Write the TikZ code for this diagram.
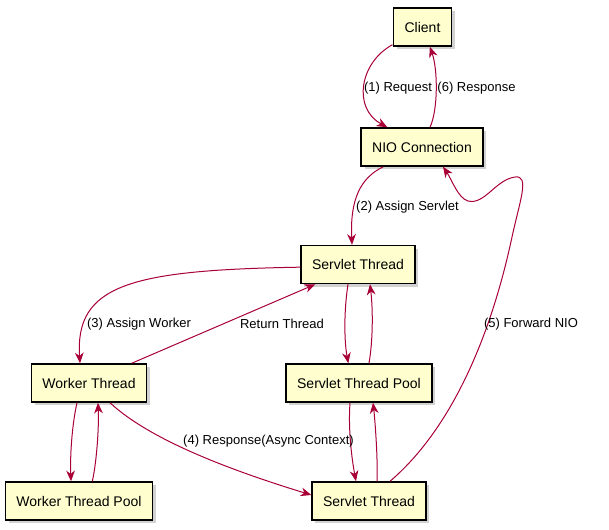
\documentclass[tikz,border=0pt]{standalone}
\usepackage{fontspec}
\setmainfont{Liberation Sans}
\usetikzlibrary{arrows.meta,shadows}
\definecolor{umlfill}{HTML}{FEFECE}
\definecolor{umlred}{HTML}{A80036}
\begin{document}
\begin{tikzpicture}[x=0.75pt, y=-0.75pt,
    comp/.style={rectangle, draw=black, line width=1.1pt, fill=umlfill, minimum height=28.5pt, inner xsep=8.25pt, align=center,
        font=\fontsize{10.5}{12}\selectfont,
        drop shadow={shadow xshift=2.5pt, shadow yshift=-2.5pt, fill=black!35, opacity=0.5}},
    flow/.style={draw=umlred, line width=0.75pt, -{Stealth[length=8pt, width=6.5pt, inset=2.5pt]}},
    lbl/.style={font=\fontsize{9.75}{11}\selectfont, inner sep=0pt}
]
\useasboundingbox (0,0) rectangle (609,529);

% Nodes
\node[comp] (client) at (422.5,27) {Client};
\node[comp] (nio) at (422,147) {NIO Connection};
\node[comp] (st) at (358,264.5) {Servlet Thread};
\node[comp] (worker) at (89,383) {Worker Thread};
\node[comp] (stpool) at (359,383) {Servlet Thread Pool};
\node[comp] (wpool) at (79,501) {Worker Thread Pool};
\node[comp] (stb) at (369,501) {Servlet Thread};

% Request / response
\draw[flow] ([xshift=-22.5pt,yshift=1.5pt]client.south) .. controls (360,62) and (352,108) .. ([xshift=-26pt]nio.north);
\draw[flow] ([xshift=6pt]nio.north) .. controls (438,110) and (438,70) .. ([xshift=5.5pt]client.south);
\draw[flow] ([xshift=-29pt]nio.south) .. controls (360,178) and (350,200) .. ([xshift=-4.5pt]st.north);

% Servlet thread to worker
\draw[flow] ([yshift=-2pt]st.west) .. controls (130,270) and (75,285) .. ([xshift=-6.75pt]worker.north);
\draw[flow] ([xshift=32pt]worker.north) -- ([xshift=-32pt]st.south);

% Pools
\draw[flow] ([xshift=-7.5pt]st.south) .. controls (344,310) and (344,340) .. ([xshift=-8pt]stpool.north);
\draw[flow] ([xshift=7.5pt]stpool.north) .. controls (373,340) and (373,310) .. ([xshift=9pt]st.south);
\draw[flow] ([xshift=-9pt]worker.south) .. controls (72,425) and (70,455) .. ([xshift=-6pt]wpool.north);
\draw[flow] ([xshift=10pt]wpool.north) .. controls (97,460) and (99,425) .. ([xshift=6.75pt]worker.south);
\draw[flow] ([xshift=-6.75pt]stpool.south) .. controls (348,430) and (352,460) .. ([xshift=-9.75pt]stb.north);
\draw[flow] ([xshift=6pt]stb.north) .. controls (378,460) and (375,420) .. ([xshift=10.5pt]stpool.south);

% Async response
\draw[flow] ([xshift=15.75pt]worker.south) .. controls (150,440) and (230,470) .. ([yshift=4.5pt]stb.west);

% Forward back to NIO
\draw[flow] ([xshift=15.75pt]stb.north) .. controls (450,430) and (490,340) .. (512,237)
    .. controls (520,200) and (530,175) .. (515,177)
    .. controls (495,180) and (485,205) .. (468,201)
    .. controls (458,198) and (452,180) .. ([xshift=15.75pt]nio.south);

% Labels
\node[lbl] (l1) at (398,88) {(1) Request};
\node[lbl] (l6) at (476.5,88) {(6) Response};
\node[lbl] (l2) at (407.5,207) {(2) Assign Servlet};
\node[lbl] (l3) at (139,324) {(3) Assign Worker};
\node[lbl] (lr) at (282,324) {Return Thread};
\node[lbl] (l5) at (531,324) {(5) Forward NIO};
\node[lbl] (l4) at (268.5,441) {(4) Response(Async Context)};
\end{tikzpicture}
\end{document}
